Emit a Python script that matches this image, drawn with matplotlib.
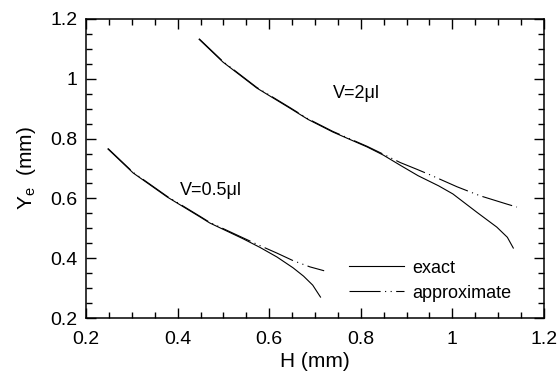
import matplotlib
matplotlib.use("Agg")
import matplotlib.pyplot as plt
from matplotlib.ticker import MultipleLocator

plt.rcParams["font.family"] = ["Liberation Sans", "DejaVu Sans"]
plt.rcParams["mathtext.fontset"] = "custom"
plt.rcParams["mathtext.rm"] = "Liberation Sans"
plt.rcParams["mathtext.it"] = "Liberation Sans"

# V = 2 ul
h_big_exact = [0.447, 0.499, 0.573, 0.645, 0.685, 0.739, 0.814, 0.849, 0.886,
               0.925, 0.97, 1.001, 1.054, 1.097, 1.12, 1.133]
y_big_exact = [1.132, 1.056, 0.969, 0.902, 0.864, 0.822, 0.772, 0.745, 0.711,
               0.676, 0.642, 0.615, 0.553, 0.504, 0.47, 0.434]
h_big_approx = [0.447, 0.499, 0.573, 0.645, 0.685, 0.739, 0.814, 0.849, 0.886,
                0.923, 0.951, 1.01, 1.06, 1.119, 1.141]
y_big_approx = [1.134, 1.058, 0.971, 0.904, 0.866, 0.824, 0.774, 0.748, 0.72,
                0.697, 0.679, 0.639, 0.609, 0.581, 0.571]

# V = 0.5 ul
h_small_exact = [0.248, 0.303, 0.377, 0.449, 0.47, 0.543, 0.58, 0.617, 0.652,
                 0.675, 0.695, 0.712]
y_small_exact = [0.765, 0.685, 0.605, 0.538, 0.518, 0.465, 0.436, 0.404, 0.368,
                 0.34, 0.31, 0.27]
h_small_approx = [0.248, 0.303, 0.377, 0.449, 0.47, 0.543, 0.58, 0.617, 0.652,
                  0.689, 0.72]
y_small_approx = [0.767, 0.687, 0.607, 0.540, 0.520, 0.468, 0.442, 0.417, 0.392,
                  0.371, 0.358]

APPROX_DASH = (0, (28, 4, 1, 4, 1, 4))

fig = plt.figure(figsize=(5.6, 3.74), dpi=100)
ax = fig.add_axes([0.1536, 0.1497, 0.8178, 0.7995])

ax.plot(h_big_exact, y_big_exact, color="black", lw=0.8, label="exact")
ax.plot(h_big_approx, y_big_approx, color="black", lw=0.8, linestyle=APPROX_DASH,
        label="approximate")
ax.plot(h_small_exact, y_small_exact, color="black", lw=0.8)
ax.plot(h_small_approx, y_small_approx, color="black", lw=0.8, linestyle=APPROX_DASH)

ax.text(0.739, 0.952, "V=2\u03bcl", fontsize=13, va="center", ha="left")
ax.text(0.405, 0.628, "V=0.5\u03bcl", fontsize=13, va="center", ha="left")

ax.set_xlim(0.2, 1.2)
ax.set_ylim(0.2, 1.2)
ax.xaxis.set_major_locator(MultipleLocator(0.2))
ax.xaxis.set_minor_locator(MultipleLocator(0.05))
ax.yaxis.set_major_locator(MultipleLocator(0.2))
ax.yaxis.set_minor_locator(MultipleLocator(0.05))
ax.xaxis.set_major_formatter(plt.FuncFormatter(lambda v, p: f"{v:g}"))
ax.yaxis.set_major_formatter(plt.FuncFormatter(lambda v, p: f"{v:g}"))
ax.tick_params(which="both", direction="in", top=True, right=True, width=1,
               labelsize=14)
ax.tick_params(which="major", length=7)
ax.tick_params(which="minor", length=4)
ax.tick_params(axis="x", pad=9)
ax.tick_params(axis="y", pad=6)
for s in ax.spines.values():
    s.set_linewidth(1.1)

ax.set_xlabel("H (mm)", fontsize=15, labelpad=3)
ax.set_ylabel("Y$_{e}$  (mm)", fontsize=15, labelpad=9)

ax.legend(loc="lower right", bbox_to_anchor=(0.965, 0.0), frameon=False,
          fontsize=13, handlelength=3.0, handletextpad=0.5, labelspacing=0.45)

fig.savefig("out.png", dpi=100)
